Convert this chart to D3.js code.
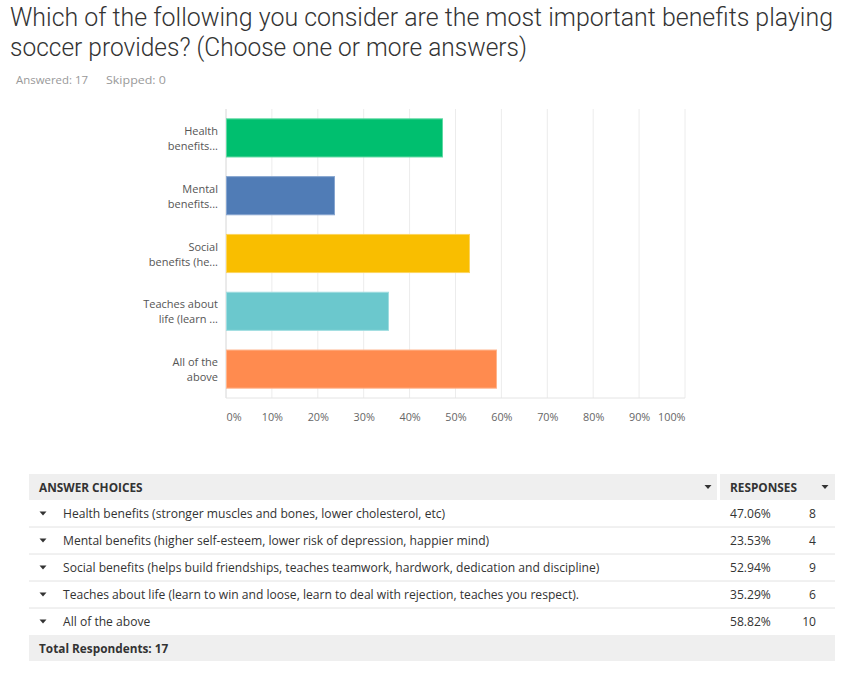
<!DOCTYPE html>
<html><head><meta charset="utf-8">
<script src="https://cdn.jsdelivr.net/npm/d3@7"></script>
<style>body{margin:0;background:#fff}svg{display:block}</style>
</head><body>
<svg id="c" width="864" height="699"></svg>
<script>
const titleLines = ["Which of the following you consider are the most important benefits playing", "soccer provides? (Choose one or more answers)"];
const shortLabels = [["Health","benefits..."],["Mental","benefits..."],["Social","benefits (he..."],["Teaches about","life (learn ..."],["All of the","above"]];
const fullLabels = ["Health benefits (stronger muscles and bones, lower cholesterol, etc)","Mental benefits (higher self-esteem, lower risk of depression, happier mind)","Social benefits (helps build friendships, teaches teamwork, hardwork, dedication and discipline)","Teaches about life (learn to win and loose, learn to deal with rejection, teaches you respect).","All of the above"];
const percents = [47.06, 23.53, 52.94, 35.29, 58.82];
const counts = [8, 4, 9, 6, 10];
const colors = ["#00bf6f","#507cb6","#f9be00","#6bc8cd","#ff8b4f"];
const strokes = ["#5fd9a3","#86a5d0","#fcd45e","#a0dde0","#ffb58d"];
const xTicks = [0,10,20,30,40,50,60,70,80,90,100];
const answered = 17, skipped = 0;

const svg = d3.select("#c");
const font = "'Open Sans', sans-serif";

// title
const tg = svg.append("g");
titleLines.forEach((t,i)=>{
  const el = tg.append("text").attr("x",10).attr("y",26+i*29.5)
    .attr("font-family","Roboto, sans-serif").attr("font-weight",300)
    .attr("font-size",25).attr("fill","#333").text(t);
  el.attr("textLength", i===0 ? 823 : 517).attr("lengthAdjust","spacingAndGlyphs");
});
svg.append("text").attr("x",16).attr("y",84).attr("font-family",font).attr("font-size",11.5).attr("fill","#999")
  .attr("textLength",72).attr("lengthAdjust","spacingAndGlyphs").text("Answered: "+answered);
svg.append("text").attr("x",106).attr("y",84).attr("font-family",font).attr("font-size",11.5).attr("fill","#999")
  .attr("textLength",60).attr("lengthAdjust","spacingAndGlyphs").text("Skipped: "+skipped);

// chart
const x = d3.scaleLinear().domain([0,100]).range([226,685]);
const y = d3.scaleBand().domain(d3.range(percents.length)).range([109,398]).paddingInner(0.34).paddingOuter(0.17);

const g = svg.append("g");
g.selectAll("line.grid").data(xTicks.slice(1)).join("line")
  .attr("x1",d=>x(d)).attr("x2",d=>x(d)).attr("y1",109).attr("y2",398)
  .attr("stroke","#ececec").attr("stroke-width",1);
g.append("line").attr("x1",226).attr("x2",226).attr("y1",109).attr("y2",398).attr("stroke","#d6d6d6");
g.append("line").attr("x1",226).attr("x2",685).attr("y1",398).attr("y2",398).attr("stroke","#e4e4e4");

g.selectAll("rect.bar").data(percents).join("rect")
  .attr("x",x(0)+0.5).attr("y",(d,i)=>y(i)).attr("width",d=>x(d)-x(0)).attr("height",y.bandwidth())
  .attr("fill",(d,i)=>colors[i]).attr("stroke",(d,i)=>strokes[i]).attr("stroke-width",1);

// y labels
shortLabels.forEach((lines,i)=>{
  const cy = y(i)+y.bandwidth()/2;
  lines.forEach((l,j)=>{
    g.append("text").attr("x",218).attr("y",cy-3+j*15).attr("text-anchor","end")
      .attr("font-family",font).attr("font-size",11).attr("fill","#555").text(l);
  });
});
// x axis labels
const axis = d3.axisBottom(x).tickValues(xTicks).tickFormat(d=>d+"%").tickSize(0).tickPadding(18);
const ag = svg.append("g").attr("transform","translate(0,398)").call(axis);
ag.select(".domain").remove();
ag.selectAll("text").attr("font-family",font).attr("font-size",10.8).attr("fill","#666")
  .attr("text-anchor",(d,i)=> i===0?"start":(i===xTicks.length-1?"end":"middle"))
  .attr("dy","0.5em");

// table
const T = svg.append("g");
const tx0 = 29, tx1 = 835, colSplit = 720;
const fs = 12.1;
T.append("rect").attr("x",tx0).attr("y",474).attr("width",colSplit-3-tx0).attr("height",26).attr("fill","#efefef");
T.append("rect").attr("x",colSplit).attr("y",474).attr("width",tx1-colSplit).attr("height",26).attr("fill","#efefef");
T.append("text").attr("x",39).attr("y",491.5).attr("font-family",font).attr("font-weight",700).attr("font-size",11.8).attr("fill","#333").text("ANSWER CHOICES");
T.append("text").attr("x",730).attr("y",491.5).attr("font-family",font).attr("font-weight",700).attr("font-size",11.8).attr("fill","#333").text("RESPONSES");
function tri(cx,cy){T.append("path").attr("d",`M${cx-3.5},${cy-2}L${cx+3.5},${cy-2}L${cx},${cy+2}Z`).attr("fill","#333");}
tri(708,487); tri(825,487);

const rowY = d3.scaleBand().domain(d3.range(fullLabels.length)).range([500,635]);
fullLabels.forEach((lab,i)=>{
  const top = rowY(i), h = rowY.bandwidth(), cy = top+h/2;
  if(i<fullLabels.length-1) T.append("line").attr("x1",tx0).attr("x2",tx1).attr("y1",top+h).attr("y2",top+h).attr("stroke","#e2e2e2");
  tri(43,cy);
  T.append("text").attr("x",63).attr("y",cy+4.3).attr("font-family",font).attr("font-size",fs).attr("fill","#333").text(lab);
  T.append("text").attr("x",730).attr("y",cy+4.3).attr("font-family",font).attr("font-size",fs).attr("fill","#333").text(percents[i].toFixed(2)+"%");
  T.append("text").attr("x",816).attr("y",cy+4.3).attr("text-anchor","end").attr("font-family",font).attr("font-size",fs).attr("fill","#333").text(counts[i]);
});
T.append("rect").attr("x",tx0).attr("y",635).attr("width",tx1-tx0).attr("height",26).attr("fill","#efefef");
T.append("text").attr("x",39).attr("y",652.5).attr("font-family",font).attr("font-weight",700).attr("font-size",11.8).attr("fill","#333").text("Total Respondents: "+answered);
</script>
</body></html>
